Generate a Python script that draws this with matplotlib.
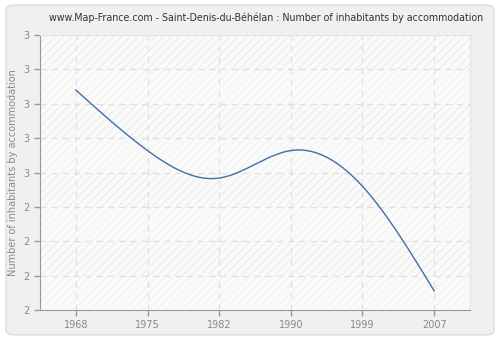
import numpy as np
import matplotlib.pyplot as plt
from matplotlib.patches import FancyBboxPatch, Rectangle

# Daten
years = ['1968', '1975', '1982', '1990', '1999', '2007']
values = [2.80, 2.58, 2.48, 2.58, 2.45, 2.07]
ytick_vals = [2.0, 2.125, 2.25, 2.375, 2.5, 2.625, 2.75, 2.875, 3.0]
ytick_labels = ['2', '2', '2', '2', '3', '3', '3', '3', '3']


def natural_spline(x, y, n=300):
    # natuerlicher kubischer Spline durch die Messpunkte
    x = np.asarray(x, float)
    y = np.asarray(y, float)
    k = len(x)
    h = np.diff(x)
    A = np.zeros((k, k))
    r = np.zeros(k)
    A[0, 0] = A[-1, -1] = 1
    for i in range(1, k - 1):
        A[i, i - 1] = h[i - 1]
        A[i, i] = 2 * (h[i - 1] + h[i])
        A[i, i + 1] = h[i]
        r[i] = 3 * ((y[i + 1] - y[i]) / h[i] - (y[i] - y[i - 1]) / h[i - 1])
    c = np.linalg.solve(A, r)
    xs = np.linspace(x[0], x[-1], n)
    idx = np.clip(np.searchsorted(x, xs) - 1, 0, k - 2)
    dx = xs - x[idx]
    b = (y[1:] - y[:-1]) / h - h * (2 * c[:-1] + c[1:]) / 3
    d = (c[1:] - c[:-1]) / (3 * h)
    ys = y[idx] + b[idx] * dx + c[idx] * dx**2 + d[idx] * dx**3
    return xs, ys


x = np.arange(len(years))
xs, ys = natural_spline(x, values)

plt.rcParams['hatch.linewidth'] = 0.6

fig = plt.figure(figsize=(5, 3.4), dpi=100)
fig.patch.set_facecolor('white')
bg = FancyBboxPatch((0.012, 0.015), 0.976, 0.97,
                    boxstyle='round,pad=0,rounding_size=0.015',
                    transform=fig.transFigure, facecolor='#f0f0f0',
                    edgecolor='#dddddd', linewidth=1, zorder=-5)
fig.add_artist(bg)

ax = fig.add_axes([0.08, 0.088, 0.86, 0.809])
ax.set_zorder(1)
ax.set_facecolor('#fafafa')
# Schraffur, abwechselnd kraeftiger zwischen den Gitterlinien
for i in range(len(ytick_vals) - 1):
    col = '#e8e8e8' if i % 2 == 1 else '#f0f0f0'
    ax.axhspan(ytick_vals[i], ytick_vals[i + 1], facecolor='none',
               edgecolor=col, hatch='////', linewidth=0, zorder=0)

ax.plot(xs, ys, color='#3f6fa8', linewidth=1, zorder=3)

ax.set_xlim(-0.5, 5.5)
ax.set_ylim(2, 3)
ax.set_xticks(x)
ax.set_xticklabels(years)
ax.set_yticks(ytick_vals)
ax.set_yticklabels(ytick_labels)
ax.grid(True, color='#e0e0e0', linestyle=(0, (5, 4)), linewidth=0.9)
ax.set_axisbelow(True)

for s in ['top', 'right']:
    ax.spines[s].set_color('#e4e4e4')
for s in ['left', 'bottom']:
    ax.spines[s].set_color('#999999')
ax.tick_params(colors='#999999', labelcolor='#888888', labelsize=7, length=4, width=1)

ax.set_ylabel('Number of inhabitants by accommodation', fontsize=7, color='#888888')
fig.text(0.533, 0.947, 'www.Map-France.com - Saint-Denis-du-Béhélan : Number of inhabitants by accommodation',
         ha='center', va='center', fontsize=6.85, color='#333333')

fig.savefig('out.png', dpi=100, facecolor=fig.get_facecolor())
